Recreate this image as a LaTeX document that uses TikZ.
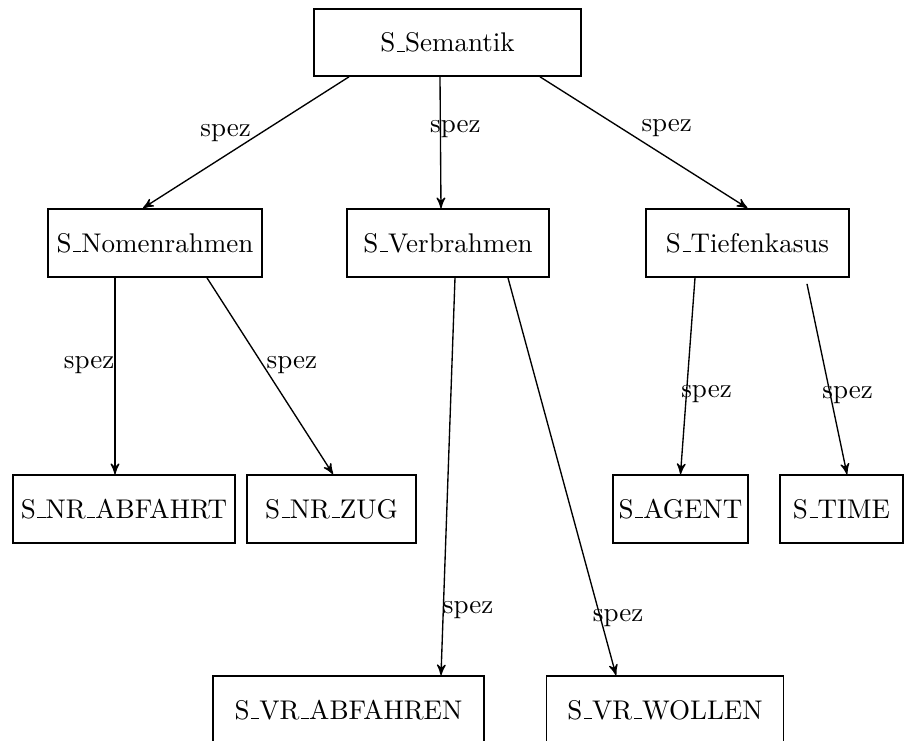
\documentclass[tikz,border=0pt]{standalone}
\usetikzlibrary{arrows}
\newcommand{\usc}{\leavevmode\kern.06em\vbox{\hrule width.3em}} % old style underscore
\tikzset{->,  % every edge is directed
>=stealth', % small thin arrow heads
x=0.37pt, y=-0.37pt, % one unit is one pixel of the scan
frame/.style={draw, rectangle, line width=0.6pt, minimum height=25.2pt, inner sep=0pt},
spez/.style={inner sep=0pt, text depth=0pt}, % the edge labels
}

\begin{document}
\begin{tikzpicture}[line width=0.5pt]
  \useasboundingbox (0,0) rectangle (904,741);

  \node[frame, minimum width=98.8pt, minimum height=24.8pt] (sem) at (447.5,42.5) {S\usc Semantik};
  \node[frame, minimum width=79.2pt] (nomen) at (155,243) {S\usc Nomenrahmen};
  \node[frame, minimum width=74.7pt] (verb) at (448,243) {S\usc Verbrahmen};
  \node[frame, minimum width=75.1pt] (tief) at (747.5,243) {S\usc Tiefenkasus};
  \node[frame, minimum width=82.1pt] (nrab) at (124,509) {S\usc NR\usc ABFAHRT};
  \node[frame, minimum width=62.5pt] (nrzug) at (331.5,509) {S\usc NR\usc ZUG};
  \node[frame, minimum width=50pt] (agent) at (680.5,509) {S\usc AGENT};
  \node[frame, minimum width=45.5pt] (time) at (841.5,509) {S\usc TIME};
  \node[frame, minimum width=100.3pt] (vrab) at (348.5,710) {S\usc VR\usc ABFAHREN};
  \node[frame, minimum width=87.7pt] (vrwol) at (665,710) {S\usc VR\usc WOLLEN};

  \path ([shift={(-98.5,0)}]sem.south) edge node[spez, pos=0.41, anchor=east, xshift=-4.8pt] {spez} ([shift={(-12,0)}]nomen.north)
        ([shift={(-7.5,0)}]sem.south) edge node[spez, pos=0.38, anchor=west, xshift=-4pt] {spez} ([shift={(-7,0)}]verb.north)
        ([shift={(92.5,0)}]sem.south) edge node[spez, pos=0.37, anchor=west, xshift=8.9pt] {spez} (tief.north)
        ([shift={(-40,0)}]nomen.south) edge node[spez, pos=0.43, anchor=east] {spez} ([shift={(-9,0)}]nrab.north)
        ([shift={(52,0)}]nomen.south) edge node[spez, pos=0.43, anchor=west, xshift=1.8pt] {spez} ([shift={(1.5,0)}]nrzug.north)
        ([shift={(7,0)}]verb.south) edge node[spez, pos=0.83, anchor=west, xshift=-0.4pt] {spez} ([shift={(92.5,0)}]vrab.north)
        ([shift={(60,0)}]verb.south) edge node[spez, pos=0.85, anchor=west, xshift=-2.8pt] {spez} ([shift={(-49,0)}]vrwol.north)
        ([shift={(-52.5,0)}]tief.south) edge node[spez, pos=0.58, anchor=west, xshift=-2.2pt] {spez} (agent.north)
        ([shift={(59.5,6)}]tief.south) edge node[spez, pos=0.57, anchor=west, xshift=-3pt] {spez} ([shift={(5.5,0)}]time.north);

\end{tikzpicture}
\end{document}
